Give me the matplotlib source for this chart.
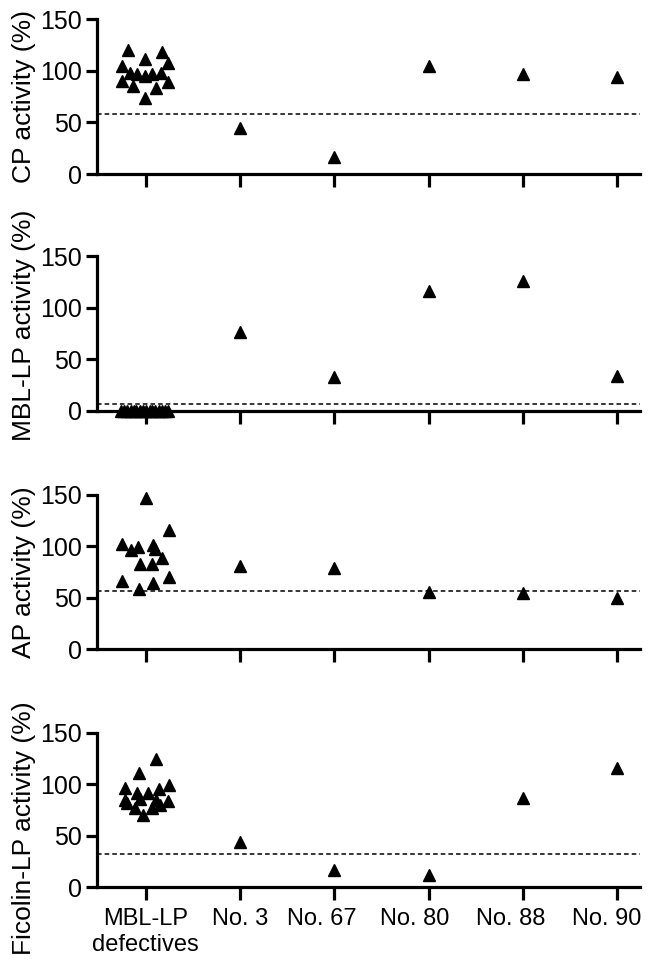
import matplotlib
matplotlib.use("Agg")
import matplotlib.pyplot as plt

plt.rcParams['font.family'] = ['Liberation Sans', 'DejaVu Sans']

categories = ["MBL-LP\ndefectives", "No. 3", "No. 67", "No. 80", "No. 88", "No. 90"]
ylabels = ["CP activity (%)", "MBL-LP activity (%)", "AP activity (%)", "Ficolin-LP activity (%)"]

# MBL-LP defectives group (values + horizontal scatter offsets)
cp_defect = [120.6, 118, 111.5, 104.4, 107.6, 97.8, 96.9, 95.2, 96.9, 97.8, 90.3, 89.7, 85.4, 83.9, 74.1]
cp_jitter = [-0.19, 0.17, -0.01, -0.25, 0.24, -0.17, -0.09, -0.01, 0.07, 0.16, -0.25, 0.24, -0.14, 0.11, -0.01]
mbl_defect = [0, 0, 0, 0, 0, 0, 0, 0, 0, 0, 0, 0, 0, 0, 0, 0]
mbl_jitter = [-0.26, -0.23, -0.2, -0.16, -0.13, -0.1, -0.06, -0.03, 0.0, 0.04, 0.07, 0.1, 0.14, 0.17, 0.2, 0.24]
ap_defect = [147, 116, 102.3, 96.5, 99.7, 101.4, 97.5, 89, 82.9, 82.6, 66.7, 70.3, 58.6, 64.4]
ap_jitter = [0.0, 0.25, -0.25, -0.16, -0.08, 0.08, 0.1, 0.17, -0.06, 0.06, -0.25, 0.25, -0.07, 0.08]
fcn_defect = [124.1, 111.2, 96, 99.2, 91.8, 91.8, 95, 84.7, 85.4, 84, 84.7, 82, 76.6, 76.6, 79.8, 70.1]
fcn_jitter = [0.11, -0.07, -0.22, 0.25, -0.09, 0.02, 0.14, -0.22, -0.06, 0.24, 0.11, -0.2, -0.12, 0.06, 0.15, -0.03]

# single patients No. 3, 67, 80, 88, 90
cp_pat = [44.5, 17, 105, 97, 94.4]
mbl_pat = [76, 32.5, 116, 126, 34]
ap_pat = [81, 79, 55.4, 54.4, 49.6]
fcn_pat = [44, 17, 12, 87, 116]

# cut-off lines
cutoffs = [58.7, 6.5, 56.7, 32.3]

# the reference draws the later x labels slightly left of their ticks
label_shift = [0, 0, -0.13, -0.15, -0.13, -0.11]
# vertical centre of each y label, axes fraction
ylabel_y = [0.5, 0.55, 0.5, 0.38]

defects = [cp_defect, mbl_defect, ap_defect, fcn_defect]
jitters = [cp_jitter, mbl_jitter, ap_jitter, fcn_jitter]
patients = [cp_pat, mbl_pat, ap_pat, fcn_pat]

fig = plt.figure(figsize=(6.5, 9.69), dpi=100)
bottoms = [0.8204, 0.5762, 0.3299, 0.0843]
height = 0.1596

for i in range(4):
    ax = fig.add_axes([0.149, bottoms[i], 0.8354, height])
    xs = [0 + j for j in jitters[i]]
    ax.plot(xs, defects[i], '^', color='black', markersize=8.5, clip_on=False, zorder=5)
    ax.plot(range(1, 6), patients[i], '^', color='black', markersize=8.5, clip_on=False, zorder=5)
    ax.axhline(cutoffs[i], color='black', linewidth=1.1, linestyle=(0, (3, 2)), zorder=1)

    ax.set_xlim(-0.52, 5.24)
    ax.set_ylim(0, 150)
    ax.set_yticks([0, 50, 100, 150])
    ax.set_xticks(range(6))
    ax.set_xticklabels([])
    if i == 3:
        ax.xaxis.remove_overlapping_locs = False
        ax.set_xticks([k + s for k, s in zip(range(6), label_shift)], categories, minor=True, fontsize=17)
        ax.tick_params(axis='x', which='minor', length=0, pad=15)
    ax.set_ylabel(ylabels[i], fontsize=19, labelpad=3)
    ax.yaxis.label.set_y(ylabel_y[i])
    for s in ['top', 'right']:
        ax.spines[s].set_visible(False)
    for s in ['left', 'bottom']:
        ax.spines[s].set_linewidth(2.3)
    ax.tick_params(axis='y', width=2.3, length=8, labelsize=18, pad=3)
    ax.tick_params(axis='x', which='major', width=2.3, length=9, pad=6)

plt.savefig("out.png", dpi=100)
